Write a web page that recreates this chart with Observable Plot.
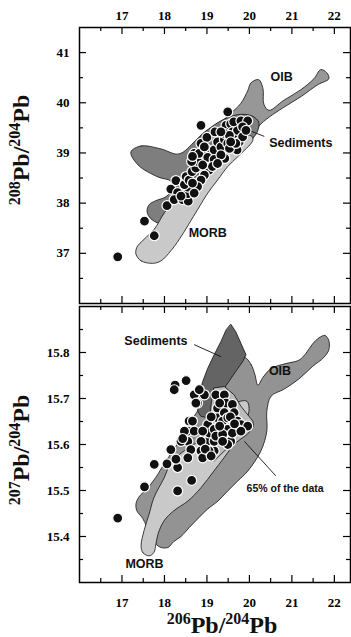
<!DOCTYPE html>
<html><head><meta charset="utf-8">
<script src="https://cdn.jsdelivr.net/npm/d3@7"></script>
<script src="https://cdn.jsdelivr.net/npm/@observablehq/plot@0.6"></script>
<style>
body{margin:0;background:#fff;}
#wrap{position:relative;width:351px;height:637px;overflow:hidden;background:#fff;}
#wrap > div, #wrap > svg{position:absolute;left:0;}
</style></head><body><div id="wrap"></div>
<script>
// ---- axes ----
const xDomain = [16, 22.38];
const xMajor = [17, 18, 19, 20, 21, 22];
const xMinor = [16.5, 17.5, 18.5, 19.5, 20.5, 21.5];
const topYDomain = [36, 41.5];
const topYMajor = [37, 38, 39, 40, 41];
const topYMinor = [36.5, 37.5, 38.5, 39.5, 40.5];
const botYDomain = [15.3, 15.9];
const botYMajor = [15.4, 15.5, 15.6, 15.7, 15.8];
const botYMinor = [15.35, 15.45, 15.55, 15.65, 15.75, 15.85];

// ---- top panel (208Pb/204Pb vs 206Pb/204Pb) ----
const topOIB = [[18.44,38.76],[18.58,39.06],[18.93,39.41],[19.26,39.57],[19.56,39.79],[19.80,39.99],[19.96,40.24],[20.04,40.40],[20.22,40.46],[20.32,40.28],[20.34,39.97],[20.46,39.85],[20.81,40.05],[21.21,40.26],[21.52,40.48],[21.68,40.66],[21.82,40.60],[21.87,40.48],[21.61,40.36],[21.21,40.12],[20.81,39.91],[20.46,39.71],[20.22,39.53],[20.08,39.29],[19.80,39.02],[19.38,38.70],[18.98,38.46],[18.62,38.50]];
const topSed = [[17.21,39.02],[17.45,39.14],[17.92,39.08],[18.34,38.98],[18.74,39.25],[19.09,39.51],[19.45,39.69],[19.80,39.77],[20.08,39.73],[20.22,39.61],[20.18,39.41],[19.99,39.22],[19.68,38.96],[19.33,38.66],[18.98,38.37],[18.62,38.07],[18.34,37.87],[18.04,37.63],[17.87,37.60],[17.68,37.69],[17.59,37.83],[17.64,37.97],[17.80,38.05],[18.04,38.13],[18.20,38.31],[18.15,38.44],[17.85,38.52],[17.38,38.76]];
const topMORB = [[17.33,36.98],[17.45,36.85],[17.72,36.80],[17.92,36.85],[18.15,37.05],[18.35,37.28],[18.78,37.87],[19.02,38.20],[19.25,38.46],[19.49,38.73],[19.72,38.92],[20.08,39.25],[20.06,39.33],[19.92,39.35],[19.60,39.08],[19.25,38.83],[18.78,38.56],[18.31,38.13],[18.00,37.81],[17.76,37.48],[17.52,37.28],[17.35,37.12]];
const topDots = [[16.90,36.93],[17.53,37.64],[17.76,37.35],[18.06,37.95],[18.15,38.28],[18.31,38.21],[18.27,38.45],[18.23,38.07],[18.43,38.07],[18.56,38.04],[18.55,38.19],[18.55,38.32],[18.47,38.37],[18.39,38.14],[18.51,38.53],[18.58,38.46],[18.65,38.63],[18.74,38.70],[18.78,38.83],[18.64,38.83],[18.70,38.99],[18.82,38.99],[18.86,39.19],[19.00,39.31],[18.86,39.55],[19.02,39.06],[19.05,38.79],[19.05,38.66],[19.02,38.91],[19.17,39.06],[19.19,39.42],[19.25,39.22],[19.17,38.87],[19.13,38.73],[19.33,39.12],[19.41,39.27],[19.49,39.82],[19.42,38.89],[19.45,39.55],[19.56,39.58],[19.60,39.42],[19.64,39.32],[19.49,39.19],[19.72,39.45],[19.76,39.22],[19.63,39.62],[19.80,39.64],[19.96,39.64],[19.84,39.32],[19.71,39.06],[19.53,39.09],[19.33,38.96],[19.25,38.79],[18.94,38.56],[18.86,38.46],[18.78,38.33],[18.70,38.20],[18.66,38.40],[19.41,39.39],[19.53,39.35],[19.68,39.19],[19.56,39.22],[19.33,39.42],[19.84,39.52],[19.92,39.45],[18.94,39.12],[18.66,38.93],[18.90,38.76]];
const topLabels = [
  {x: 20.76, y: 40.52, text: "OIB"},
  {x: 21.21, y: 39.20, text: "Sediments"},
  {x: 19.02, y: 37.40, text: "MORB"}
];
const topLeaders = [{x1: 20.35, y1: 39.33, x2: 19.99, y2: 39.45}];

// ---- bottom panel (207Pb/204Pb vs 206Pb/204Pb) ----
const botOIB = [[19.89,15.789],[20.04,15.774],[20.13,15.752],[20.20,15.729],[20.32,15.746],[20.51,15.765],[20.86,15.776],[21.16,15.783],[21.33,15.798],[21.49,15.819],[21.64,15.832],[21.78,15.837],[21.87,15.826],[21.87,15.806],[21.75,15.789],[21.49,15.770],[21.16,15.742],[20.81,15.720],[20.51,15.705],[20.41,15.672],[20.41,15.629],[20.27,15.586],[19.96,15.542],[19.73,15.521],[19.49,15.499],[19.26,15.477],[19.02,15.460],[18.81,15.441],[18.58,15.419],[18.39,15.400],[18.22,15.389],[18.08,15.376],[17.87,15.378],[17.68,15.402],[17.49,15.439],[17.35,15.456],[17.33,15.471],[17.40,15.486],[17.61,15.506],[17.85,15.536],[17.99,15.558],[18.20,15.586],[18.39,15.614],[18.55,15.636],[18.67,15.657],[18.86,15.683],[19.14,15.716],[19.45,15.748],[19.73,15.776]];
const botSed = [[19.565,15.861],[19.68,15.845],[19.80,15.820],[19.92,15.795],[19.84,15.780],[19.68,15.759],[19.45,15.728],[19.25,15.698],[19.17,15.665],[19.05,15.658],[18.86,15.661],[18.78,15.672],[18.82,15.709],[18.90,15.737],[19.02,15.766],[19.17,15.795],[19.33,15.824],[19.45,15.849]];
const botMORB = [[17.45,15.380],[17.49,15.365],[17.64,15.358],[17.75,15.365],[17.80,15.384],[17.85,15.406],[17.99,15.434],[18.22,15.456],[18.55,15.477],[18.86,15.506],[19.16,15.542],[19.40,15.571],[19.64,15.603],[19.85,15.640],[19.99,15.672],[19.94,15.694],[19.68,15.690],[19.38,15.661],[19.05,15.629],[18.74,15.603],[18.39,15.581],[18.15,15.560],[17.99,15.527],[17.75,15.484],[17.64,15.449],[17.52,15.413]];
const bot65 = [[19.17,15.723],[19.41,15.726],[19.64,15.708],[19.80,15.683],[20.08,15.651],[20.10,15.640],[19.96,15.623],[19.64,15.601],[19.41,15.586],[19.17,15.564],[19.09,15.568],[19.02,15.579],[19.05,15.607],[19.05,15.644],[19.09,15.679],[19.13,15.709]];
const botDots = [[16.90,15.440],[17.53,15.508],[17.76,15.557],[18.25,15.729],[18.23,15.719],[18.51,15.739],[18.31,15.499],[18.64,15.522],[18.06,15.558],[18.15,15.589],[18.31,15.550],[18.27,15.568],[18.58,15.651],[18.55,15.629],[18.70,15.708],[18.78,15.690],[18.94,15.708],[18.82,15.719],[18.55,15.607],[18.62,15.589],[18.55,15.571],[18.39,15.607],[18.70,15.629],[18.86,15.586],[18.90,15.571],[19.02,15.607],[19.02,15.643],[19.05,15.625],[19.21,15.708],[19.41,15.708],[19.45,15.690],[19.60,15.687],[19.25,15.679],[19.25,15.658],[19.41,15.669],[19.37,15.651],[19.49,15.658],[19.64,15.669],[19.72,15.651],[19.80,15.643],[19.96,15.640],[19.72,15.633],[19.49,15.633],[19.56,15.607],[19.49,15.600],[19.17,15.586],[19.05,15.586],[19.17,15.607],[19.17,15.633],[19.21,15.618],[19.37,15.622],[19.60,15.625],[19.80,15.629],[19.37,15.607],[18.90,15.629],[18.86,15.607],[18.47,15.629],[18.43,15.613],[18.66,15.651],[18.74,15.690],[19.30,15.690],[19.55,15.660],[19.65,15.645],[19.30,15.640],[19.10,15.660],[18.96,15.590],[19.10,15.575]];
const botLabels = [
  {x: 17.80, y: 15.824, text: "Sediments", size: 12.5},
  {x: 20.72, y: 15.759, text: "OIB", size: 12.5},
  {x: 20.84, y: 15.503, text: "65% of the data", size: 10.5},
  {x: 17.53, y: 15.341, text: "MORB", size: 12.5}
];
const botLeaders = [
  {x1: 18.70, y1: 15.817, x2: 19.33, y2: 15.791},
  {x1: 19.88, y1: 15.607, x2: 20.62, y2: 15.532}
];

// ---- titles ----
const yTitleTop = [["208", true], ["Pb/", false], ["204", true], ["Pb", false]];
const yTitleBot = [["207", true], ["Pb/", false], ["204", true], ["Pb", false]];
const xTitle = [["206", true], ["Pb/", false], ["204", true], ["Pb", false]];

const W = 351, ML = 79, MR = 1;
const SANS = "Liberation Sans, Arial, Helvetica, sans-serif";
const SERIF = "Liberation Serif, Times New Roman, serif";

function panel(o) {
  const innerW = W - ML - MR;
  const innerH = o.height - o.mt - o.mb;
  const P = d => d[0], Q = d => d[1];
  const marks = [];
  for (const p of o.polys) {
    marks.push(Plot.line(p.pts, {x: P, y: Q, curve: p.curve, fill: p.fill, stroke: "#111", strokeWidth: 0.8}));
  }
  marks.push(Plot.link(o.leaders, {x1: "x1", y1: "y1", x2: "x2", y2: "y2", stroke: "#111", strokeWidth: 0.9}));
  marks.push(Plot.dot(o.dots, {x: P, y: Q, r: 5, fill: "#111", stroke: "white", strokeWidth: 1.2}));
  marks.push(Plot.text(o.labels, {x: "x", y: "y", text: "text", textAnchor: "middle", fontFamily: SANS, fontWeight: "bold", fontSize: d => d.size || 12.5, fill: "#111"}));
  const tk = (vals, len) => [
    Plot.tickX(vals, {x: d => d, insetBottom: innerH - len, stroke: "black", strokeWidth: 1.2}),
    Plot.tickX(vals, {x: d => d, insetTop: innerH - len, stroke: "black", strokeWidth: 1.2})
  ];
  const tky = (vals, len) => [
    Plot.tickY(vals, {y: d => d, insetRight: innerW - len, stroke: "black", strokeWidth: 1.2}),
    Plot.tickY(vals, {y: d => d, insetLeft: innerW - len, stroke: "black", strokeWidth: 1.2})
  ];
  marks.push(...tk(xMajor, 7), ...tk(xMinor, 4), ...tky(o.yMajor, 7), ...tky(o.yMinor, 4));
  marks.push(Plot.axisX({anchor: o.xAnchor, ticks: xMajor, tickSize: 0, tickPadding: o.xPad, tickFormat: d => String(d), label: null}));
  marks.push(Plot.axisY({anchor: "left", ticks: o.yMajor, tickSize: 0, tickPadding: 10, tickFormat: o.yFormat, label: null}));
  marks.push(Plot.frame({stroke: "black", strokeWidth: 1.5}));
  return Plot.plot({
    width: W, height: o.height,
    marginLeft: ML, marginRight: MR, marginTop: o.mt, marginBottom: o.mb,
    x: {domain: xDomain},
    y: {domain: o.yDomain},
    style: {fontFamily: SERIF, fontSize: "13px", fontWeight: "bold", color: "black", background: "transparent", overflow: "visible"},
    marks
  });
}

const wrap = document.getElementById("wrap");

const topPlot = panel({
  height: 305, mt: 27, mb: 2, yDomain: topYDomain, yMajor: topYMajor, yMinor: topYMinor,
  yFormat: d => String(d), xAnchor: "top", xPad: 8,
  polys: [
    {pts: topOIB, fill: "#979797", curve: "catmull-rom-closed"},
    {pts: topSed, fill: "#7e7e7e", curve: "catmull-rom-closed"},
    {pts: topMORB, fill: "#c9c9c9", curve: "catmull-rom-closed"}
  ],
  dots: topDots, labels: topLabels, leaders: topLeaders
});
const topDiv = document.createElement("div");
topDiv.style.top = "0px";
topDiv.appendChild(topPlot);
wrap.appendChild(topDiv);

const botPlot = panel({
  height: 333, mt: 2, mb: 55, yDomain: botYDomain, yMajor: botYMajor, yMinor: botYMinor,
  yFormat: d => d.toFixed(1), xAnchor: "bottom", xPad: 15,
  polys: [
    {pts: botOIB, fill: "#939393", curve: "catmull-rom-closed"},
    {pts: botSed, fill: "#646464", curve: "linear-closed"},
    {pts: botMORB, fill: "#c9c9c9", curve: "catmull-rom-closed"},
    {pts: bot65, fill: "#bcbcbc", curve: "linear-closed"}
  ],
  dots: botDots, labels: botLabels, leaders: botLeaders
});
const botDiv = document.createElement("div");
botDiv.style.top = "304px";
botDiv.appendChild(botPlot);
wrap.appendChild(botDiv);

const svg = d3.create("svg").attr("width", W).attr("height", 637).style("pointer-events", "none").style("top", "0px");
function title(parts, transform) {
  const t = svg.append("text").attr("transform", transform).attr("text-anchor", "middle")
    .attr("font-family", SERIF).attr("font-weight", "bold").attr("fill", "#111");
  for (const [s, sup] of parts) {
    t.append("tspan").attr("font-size", sup ? 16 : 24).attr("dy", sup ? -9 : 9).text(s);
  }
}
title(xTitle, "translate(222,633)");
title(yTitleTop, "translate(29,150) rotate(-90)");
title(yTitleBot, "translate(29,450) rotate(-90)");
wrap.appendChild(svg.node());
</script></body></html>
